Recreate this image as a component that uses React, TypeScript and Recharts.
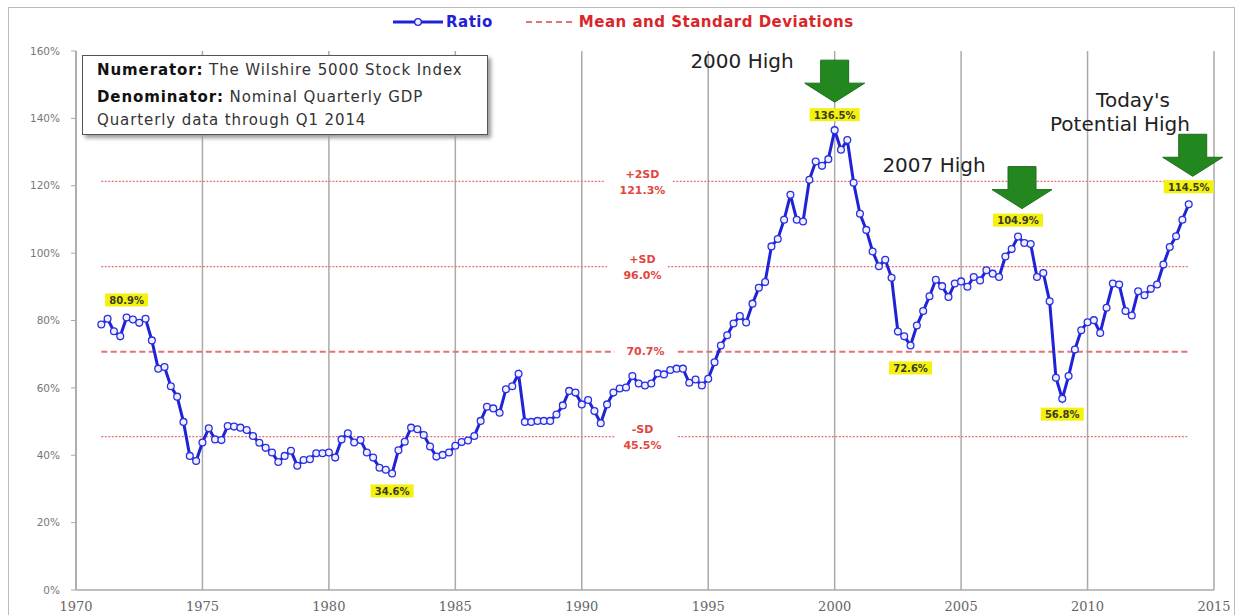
import React from 'react';
import { LineChart, Line, XAxis, YAxis, CartesianGrid, ReferenceLine, ReferenceDot } from 'recharts';

// Wilshire 5000 / nominal GDP, quarterly from 1971 Q1, in %
const START_YEAR = 1971;
const RATIO_1970S = [
  78.8, 80.5, 76.8, 75.3, 80.9, 80.3, 79.3, 80.5, 74.1, 65.7, 66.2, 60.5,
  57.4, 49.9, 39.8, 38.3, 43.8, 48.0, 44.7, 44.5, 48.7, 48.5, 48.2, 47.5,
  45.7, 43.7, 42.2, 40.8, 38.0, 39.8, 41.3, 36.9, 38.6, 38.8, 40.6, 40.6,
];
const RATIO_1980S = [
  40.8, 39.3, 44.7, 46.5, 43.8, 44.5, 40.8, 39.3, 36.3, 35.7, 34.6, 41.5,
  44.0, 48.2, 47.7, 46.0, 42.6, 39.6, 40.1, 40.8, 42.8, 43.9, 44.4, 45.7,
  50.2, 54.4, 53.9, 52.6, 59.6, 60.5, 64.2, 49.9, 49.9, 50.2, 50.2, 50.2,
  52.1, 54.8, 59.1, 58.6,
];
const RATIO_1990S = [
  55.1, 56.4, 53.1, 49.5, 55.1, 58.6, 59.8, 60.1, 63.5, 61.3, 60.7, 61.3,
  64.3, 64.0, 65.3, 65.7, 65.7, 61.5, 62.5, 60.7, 62.7, 67.6, 72.6, 75.6,
  79.1, 81.3, 79.4, 85.0, 89.7, 91.4, 102.0, 104.2, 109.9, 117.3, 109.9, 109.4,
  121.8, 127.2, 125.9, 127.9,
];
const RATIO_2000S = [
  136.5, 130.7, 133.6, 120.9, 111.7, 106.9, 100.5, 96.1, 98.0, 92.7, 76.7, 75.3,
  72.6, 78.5, 82.8, 87.2, 92.1, 90.2, 87.0, 91.0, 91.6, 90.0, 92.9, 91.9,
  94.9, 93.9, 92.9, 99.0, 101.2, 104.9, 103.0, 102.7, 92.9, 94.1, 85.7, 63.0,
  56.8, 63.5, 71.4, 77.1,
];
const RATIO_2010S = [
  79.5, 80.1, 76.3, 83.8, 91.0, 90.7, 82.8, 81.5, 88.7, 87.5, 89.4, 90.7,
  96.6, 101.8, 105.0, 109.9, 114.5,
];

const YEAR_TICKS = [1970, 1975, 1980, 1985, 1990, 1995, 2000, 2005, 2010, 2015];
const PCT_TICKS = [0, 20, 40, 60, 80, 100, 120, 140, 160];

// mean and standard deviation bands
const BAND_LEVELS = [121.3, 96.0, 70.7, 45.5];
const BAND_NAMES = ['+2SD', '+SD', '', '-SD'];
const BAND_GAP_FROM = [1990.9, 1991.0, 1991.3, 1991.3];
const BAND_GAP_TO = [1993.6, 1993.4, 1993.8, 1993.8];
const BAND_LABEL_YEAR = 1992.4;

// highlighted points (index into the series)
const TAG_INDEX = [4, 46, 116, 128, 145, 152, 172];
const TAG_TEXT = ['80.9%', '34.6%', '136.5%', '72.6%', '104.9%', '56.8%', '114.5%'];
const TAG_DY = [-17, 18, -15, 23, -16, 16, -17];
const ARROW_INDEX = [116, 145, 172];

const ratio = [...RATIO_1970S, ...RATIO_1980S, ...RATIO_1990S, ...RATIO_2000S, ...RATIO_2010S];
const data = ratio.map((v, i) => ({ t: START_YEAR + i / 4, ratio: v }));

const RED = '#e2463f';
const LINE_RED = '#e77070';
const BLUE = '#1f22d6';
const SANS = '"DejaVu Sans", Verdana, sans-serif';

const YellowTag = ({ cx, cy, text, dy }: any) => {
  const w = text.length * 7 + 8;
  return (
    <g>
      <rect x={cx - w / 2} y={cy + dy - 7} width={w} height={13} fill="#f4f20c" />
      <text x={cx} y={cy + dy} textAnchor="middle" dominantBaseline="central"
        fontFamily={SANS} fontWeight="bold" fontSize={10} fill="#3a3a2a">{text}</text>
    </g>
  );
};

const DownArrow = ({ cx, cy, dx }: any) => {
  const x = cx + dx;
  const tip = cy - 28;
  const pts = [
    [x - 14, tip - 42], [x + 14, tip - 42], [x + 14, tip - 19], [x + 30, tip - 19],
    [x, tip], [x - 30, tip - 19], [x - 14, tip - 19],
  ].map((p) => p.join(',')).join(' ');
  return <polygon points={pts} fill="#23871f" stroke="#1d6e1a" strokeWidth={1} />;
};

const BandLabel = ({ cx, cy, name, level }: any) => {
  if (!name) {
    return (
      <text x={cx + 3} y={cy} textAnchor="middle" dominantBaseline="central"
        fontFamily={SANS} fontWeight="bold" fontSize={11} fill={RED}>{level.toFixed(1)}%</text>
    );
  }
  return (
    <g fontFamily={SANS} fontWeight="bold" fontSize={11} fill={RED} textAnchor="middle">
      <text x={cx} y={cy - 7} dominantBaseline="central">{name}</text>
      <text x={cx} y={cy + 9} dominantBaseline="central">{level.toFixed(1)}%</text>
    </g>
  );
};

const note = (left: number, top: number, text: string) => (
  <div style={{
    position: 'absolute', left, top, transform: 'translate(-50%, -50%)', whiteSpace: 'nowrap',
    fontFamily: SANS, fontSize: 20, color: '#222',
  }}>{text}</div>
);

export default function App() {
  return (
    <div style={{ position: 'absolute', left: 0, top: 0, width: 1245, height: 615, background: '#fff', overflow: 'hidden' }}>
      <div style={{ position: 'absolute', left: 8, top: 7, width: 1225, height: 620, border: '1px solid #bbb' }} />

      <LineChart width={1245} height={615} data={data} margin={{ top: 51, right: 31, bottom: 0, left: 0 }}>
        <CartesianGrid horizontal={false} stroke="#aaa" strokeWidth={1.5} />
        <XAxis
          dataKey="t" type="number" domain={[1970, 2015]} ticks={YEAR_TICKS} height={25}
          tickLine={false} tickSize={0} tickMargin={12}
          axisLine={{ stroke: '#aaa', strokeWidth: 1.5 }}
          tick={{ fill: '#666', fontSize: 13, fontFamily: '"DejaVu Serif", serif' }}
        />
        <YAxis
          type="number" domain={[0, 160]} ticks={PCT_TICKS} width={76}
          tickFormatter={(v) => `${v}%`} tickSize={5} tickMargin={11}
          axisLine={{ stroke: '#aaa', strokeWidth: 1.5 }} tickLine={{ stroke: '#aaa' }}
          tick={{ fill: '#777', fontSize: 10.5, fontFamily: SANS }}
        />

        {BAND_LEVELS.map((lv, k) => {
          const mean = BAND_NAMES[k] === '';
          const style = mean
            ? { stroke: LINE_RED, strokeWidth: 2, strokeDasharray: '6 3.5' }
            : { stroke: LINE_RED, strokeWidth: 1.2, strokeDasharray: '2 1.5' };
          return [
            <ReferenceLine key={`a${k}`} segment={[{ x: START_YEAR, y: lv }, { x: BAND_GAP_FROM[k], y: lv }]} {...style} />,
            <ReferenceLine key={`b${k}`} segment={[{ x: BAND_GAP_TO[k], y: lv }, { x: 2014, y: lv }]} {...style} />,
            <ReferenceDot key={`c${k}`} x={BAND_LABEL_YEAR} y={lv} r={0}
              shape={(p: any) => <BandLabel cx={p.cx} cy={p.cy} name={BAND_NAMES[k]} level={lv} />} />,
          ];
        })}

        <Line
          type="linear" dataKey="ratio" stroke={BLUE} strokeWidth={3} isAnimationActive={false}
          dot={{ r: 3.4, fill: '#eef0ff', stroke: '#2b2fe0', strokeWidth: 1.3 }}
        />

        {TAG_INDEX.map((idx, k) => (
          <ReferenceDot key={`t${k}`} x={data[idx].t} y={data[idx].ratio} r={0}
            shape={(p: any) => <YellowTag cx={p.cx} cy={p.cy} text={TAG_TEXT[k]} dy={TAG_DY[k]} />} />
        ))}
        {ARROW_INDEX.map((idx, k) => (
          <ReferenceDot key={`ar${k}`} x={data[idx].t} y={data[idx].ratio} r={0}
            shape={(p: any) => <DownArrow cx={p.cx} cy={p.cy} dx={k === 0 ? 0 : 4} />} />
        ))}
      </LineChart>

      {/* legend */}
      <div style={{ position: 'absolute', left: 393, top: 12, display: 'flex', alignItems: 'center', fontFamily: SANS, fontWeight: 'bold', fontSize: 15, letterSpacing: 0.5 }}>
        <svg width={50} height={20}>
          <line x1={0} y1={10} x2={50} y2={10} stroke={BLUE} strokeWidth={3} />
          <circle cx={25} cy={10} r={3.3} fill="#eef0ff" stroke={BLUE} strokeWidth={1.3} />
        </svg>
        <span style={{ color: BLUE, marginLeft: 3 }}>Ratio</span>
        <svg width={50} height={20} style={{ marginLeft: 33 }}>
          <line x1={0} y1={10} x2={50} y2={10} stroke={LINE_RED} strokeWidth={2} strokeDasharray="6 4" />
        </svg>
        <span style={{ color: '#d9262a', marginLeft: 3 }}>Mean and Standard Deviations</span>
      </div>

      {/* info box */}
      <div style={{
        position: 'absolute', left: 82, top: 55, width: 404, height: 78, background: '#fff',
        border: '1.5px solid #555', boxShadow: '3px 3px 4px #999', fontFamily: SANS, fontSize: 15, letterSpacing: 0.9, color: '#333',
      }}>
        <div style={{ position: 'absolute', left: 14, top: 5, whiteSpace: 'nowrap' }}><b style={{ color: '#111' }}>Numerator:</b> The Wilshire 5000 Stock Index</div>
        <div style={{ position: 'absolute', left: 14, top: 32, whiteSpace: 'nowrap' }}><b style={{ color: '#111' }}>Denominator:</b> Nominal Quarterly GDP</div>
        <div style={{ position: 'absolute', left: 14, top: 55, whiteSpace: 'nowrap' }}>Quarterly data through Q1 2014</div>
      </div>

      {note(742, 61, '2000 High')}
      {note(934, 165, '2007 High')}
      {note(1133, 100, "Today's")}
      {note(1120, 124, 'Potential High')}
    </div>
  );
}
